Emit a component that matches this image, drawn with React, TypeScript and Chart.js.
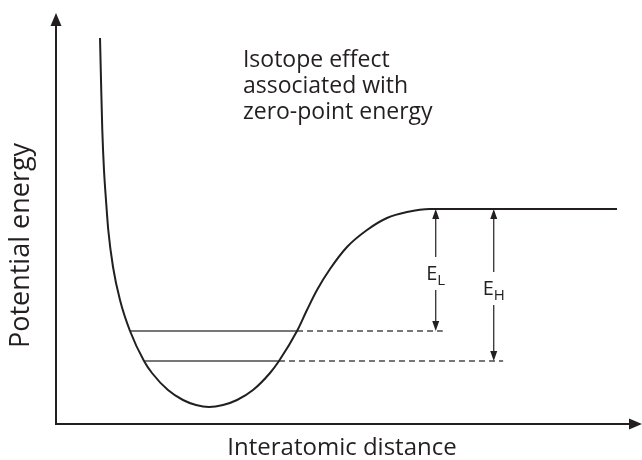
import React, { useEffect, useRef } from "react";
import { Chart, registerables } from "chart.js";

Chart.register(...registerables);

// Potential energy curve (interatomic distance, potential energy) in arbitrary units
const curveX = [0.751, 0.768, 0.79, 0.819, 0.853, 0.892, 0.973, 1.092, 1.263, 1.502, 1.638, 1.911, 2.167, 2.389, 2.611, 2.85, 3.089, 3.362, 3.652, 3.805, 4.113, 4.283, 4.454, 4.676, 4.966, 5.307, 5.648, 5.99, 6.382, 7.918, 9.573];
const curveY = [9.392, 8.37, 7.153, 6.18, 5.45, 4.72, 3.82, 3.017, 2.263, 1.533, 1.241, 0.827, 0.584, 0.462, 0.414, 0.462, 0.584, 0.827, 1.241, 1.533, 2.263, 2.774, 3.26, 3.771, 4.307, 4.72, 5.012, 5.158, 5.231, 5.231, 5.231];

// Zero-point energy levels
const levelNames = ["L", "H"];
const levelEnergy = [2.263, 1.533];
const levelStart = [1.263, 1.502];
const levelCross = [4.113, 3.805];
const levelDashEnd = [6.6, 7.63];
const arrowX = [6.48, 7.47];
const dissociationEnergy = 5.231;

const annotationLines = ["Isotope effect", "associated with", "zero-point energy"];
const xTitle = "Interatomic distance";
const yTitle = "Potential energy";

const INK = "#231f20";
const FONT = "'Open Sans', 'DejaVu Sans', sans-serif";

function arrowHead(ctx: CanvasRenderingContext2D, x: number, y: number, dir: "up" | "down" | "right", len: number, half: number) {
  ctx.beginPath();
  if (dir === "up") {
    ctx.moveTo(x, y);
    ctx.lineTo(x - half, y + len);
    ctx.lineTo(x + half, y + len);
  } else if (dir === "down") {
    ctx.moveTo(x, y);
    ctx.lineTo(x - half, y - len);
    ctx.lineTo(x + half, y - len);
  } else {
    ctx.moveTo(x, y);
    ctx.lineTo(x - len, y - half);
    ctx.lineTo(x - len, y + half);
  }
  ctx.closePath();
  ctx.fill();
}

const decorPlugin = {
  id: "decor",
  afterDatasetsDraw(chart: any) {
    const ctx: CanvasRenderingContext2D = chart.ctx;
    const xs = chart.scales.x;
    const ys = chart.scales.y;
    const area = chart.chartArea;
    ctx.save();
    ctx.fillStyle = INK;
    ctx.strokeStyle = INK;

    // axes
    ctx.lineWidth = 2;
    ctx.beginPath();
    ctx.moveTo(area.left, area.top + 8);
    ctx.lineTo(area.left, area.bottom);
    ctx.lineTo(area.right - 8, area.bottom);
    ctx.stroke();
    arrowHead(ctx, area.left, area.top, "up", 13, 5.5);
    arrowHead(ctx, area.right, area.bottom, "right", 13, 5.5);

    // energy arrows with labels
    const top = ys.getPixelForValue(dissociationEnergy);
    levelNames.forEach((name, i) => {
      const x = xs.getPixelForValue(arrowX[i]);
      const bottom = ys.getPixelForValue(levelEnergy[i]);
      const mid = (top + bottom) / 2 + 3;
      const gapTop = mid - 16;
      const gapBottom = mid + 17;
      ctx.lineWidth = 1.2;
      ctx.beginPath();
      ctx.moveTo(x, top + 8);
      ctx.lineTo(x, gapTop);
      ctx.moveTo(x, gapBottom);
      ctx.lineTo(x, bottom - 8);
      ctx.stroke();
      arrowHead(ctx, x, top, "up", 10, 3.5);
      arrowHead(ctx, x, bottom, "down", 10, 3.5);

      ctx.font = `20px ${FONT}`;
      const wE = ctx.measureText("E").width;
      ctx.font = `15px ${FONT}`;
      const wS = ctx.measureText(name).width;
      const start = x - (wE + wS) / 2;
      ctx.textAlign = "left";
      ctx.textBaseline = "alphabetic";
      ctx.font = `20px ${FONT}`;
      ctx.fillText("E", start, mid + 7);
      ctx.font = `15px ${FONT}`;
      ctx.fillText(name, start + wE, mid + 12);
    });

    // annotation
    ctx.font = `23px ${FONT}`;
    ctx.textAlign = "left";
    ctx.textBaseline = "alphabetic";
    const ax = xs.getPixelForValue(3.19);
    const ay = ys.getPixelForValue(8.69);
    annotationLines.forEach((line, i) => {
      ctx.fillText(line, ax, ay + i * 26);
    });

    // axis titles
    ctx.font = `24px ${FONT}`;
    ctx.textAlign = "center";
    ctx.fillText(xTitle, (area.left + area.right) / 2 - 7, area.bottom + 31);
    ctx.save();
    ctx.font = `27px ${FONT}`;
    ctx.translate(area.left - 35, (area.top + area.bottom) / 2 + 27);
    ctx.rotate(-Math.PI / 2);
    ctx.textBaseline = "middle";
    ctx.fillText(yTitle, 0, 0);
    ctx.restore();

    ctx.restore();
  },
};

export default function App() {
  const ref = useRef<HTMLCanvasElement>(null);
  useEffect(() => {
    if (!ref.current) return;
    const curve = curveX.map((x, i) => ({ x, y: curveY[i] }));
    const solidLevels = levelNames.map((_, i) => ({
      data: [
        { x: levelStart[i], y: levelEnergy[i] },
        { x: levelCross[i], y: levelEnergy[i] },
      ],
      borderColor: "#4a4a4a",
      borderWidth: 1.3,
      pointRadius: 0,
      showLine: true,
    }));
    const dashedLevels = levelNames.map((_, i) => ({
      data: [
        { x: levelCross[i], y: levelEnergy[i] },
        { x: levelDashEnd[i], y: levelEnergy[i] },
      ],
      borderColor: "#4a4a4a",
      borderWidth: 1.3,
      borderDash: [6, 4],
      pointRadius: 0,
      showLine: true,
    }));
    const chart = new Chart(ref.current, {
      type: "scatter",
      data: {
        datasets: [
          {
            data: curve,
            borderColor: INK,
            borderWidth: 2,
            pointRadius: 0,
            showLine: true,
            cubicInterpolationMode: "monotone",
          } as any,
          ...solidLevels,
          ...dashedLevels,
        ],
      },
      options: {
        responsive: false,
        animation: false,
        layout: { padding: { left: 56, right: 0, top: 13, bottom: 36 } },
        plugins: { legend: { display: false }, tooltip: { enabled: false } },
        scales: {
          x: { type: "linear", min: 0, max: 10, display: false },
          y: { type: "linear", min: 0, max: 10, display: false },
        },
      },
      plugins: [decorPlugin],
    });
    return () => chart.destroy();
  }, []);
  return (
    <div style={{ position: "fixed", left: 0, top: 0, width: 642, height: 460, background: "#fff" }}>
      <canvas ref={ref} width={642} height={460} />
    </div>
  );
}
